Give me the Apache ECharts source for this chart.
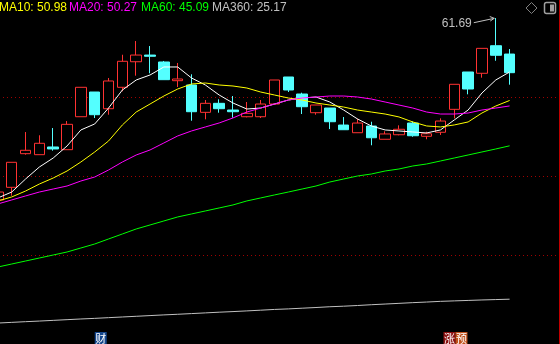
<!DOCTYPE html>
<html><head><meta charset="utf-8">
<script src="https://cdn.jsdelivr.net/npm/echarts@6/dist/echarts.min.js"></script>
<style>html,body{margin:0;padding:0;background:#000;overflow:hidden;width:560px;height:344px;position:relative;}
#c{position:absolute;left:-9px;top:0;width:569px;height:344px;}</style>
</head><body><div id="c"></div>
<script>
// ---- data ----
const categories = ['1','2','3','4','5','6','7','8','9','10','11','12','13','14','15','16','17','18','19','20',
  '21','22','23','24','25','26','27','28','29','30','31','32','33','34','35','36','37','38','39','40','41'];
// [open, close, low, high]
const candles = [
  [38.05,39.09,37.80,39.09],[39.70,42.95,38.61,42.95],[44.07,44.51,43.94,46.88],[43.94,45.42,43.94,46.46],
  [44.94,44.68,44.46,47.40],[44.59,47.88,44.59,48.31],[48.87,52.69,48.87,52.69],[52.08,49.13,48.70,52.08],
  [49.91,53.51,49.13,53.90],[52.69,56.07,52.17,56.92],[56.01,56.88,54.20,58.70],[56.88,56.72,54.51,58.05],
  [55.98,53.68,53.68,56.11],[53.55,53.77,52.73,55.85],[52.99,49.52,48.35,54.38],[49.44,50.61,48.53,51.04],
  [50.61,49.91,49.39,51.13],[49.74,49.52,48.74,51.56],[48.87,49.31,48.79,50.78],[48.87,50.52,48.70,51.04],
  [50.52,53.64,50.52,53.64],[54.03,52.34,52.08,54.03],[51.82,50.17,49.22,51.99],[49.39,50.39,49.13,50.39],
  [50.00,48.22,47.27,50.00],[47.79,47.18,47.18,48.83],[46.79,48.05,46.79,48.61],[47.66,46.14,45.16,48.22],
  [45.94,46.63,45.94,46.98],[46.53,47.24,46.46,47.75],[48.05,46.40,46.27,48.27],[46.33,46.66,45.94,46.92],
  [46.85,48.31,46.50,48.66],[49.83,53.08,48.66,53.08],[54.68,52.47,51.78,54.68],[54.51,57.75,53.94,57.75],
  [58.09,56.85,56.14,61.69],[57.01,54.59,53.03,57.66]
];
const ma5 = [38.32,39.09,40.78,42.34,43.51,45.07,47.15,47.93,50.00,52.34,53.64,54.29,55.33,55.33,53.90,52.99,
  51.69,50.65,49.87,50.00,50.52,51.04,51.30,51.43,50.78,49.74,48.58,47.67,47.15,47.02,46.89,46.76,47.15,48.45,
  49.74,51.95,53.64,54.68];
const ma10 = [37.93,38.45,39.22,40.13,40.91,41.82,42.99,44.29,45.72,47.80,49.48,50.52,51.56,52.47,53.12,53.25,
  52.99,52.86,52.60,52.08,51.69,51.30,51.04,50.65,50.39,50.13,49.74,49.48,49.22,48.84,48.19,47.67,47.54,47.80,
  48.19,49.35,50.26,50.98];
const ma20 = [37.54,38.06,38.58,39.09,39.48,39.87,40.52,41.04,41.95,42.99,43.90,44.55,45.46,46.37,47.02,47.54,
  48.06,48.71,49.48,50.00,50.52,51.04,51.30,51.43,51.56,51.56,51.43,51.17,50.78,50.39,50.00,49.48,49.22,49.22,
  49.35,49.74,50.00,50.27];
const ma60 = [29.35,29.74,30.13,30.52,30.91,31.30,31.82,32.34,32.99,33.64,34.29,34.81,35.33,35.85,36.24,36.63,
  37.02,37.41,37.93,38.32,38.71,39.09,39.48,39.87,40.39,40.78,41.17,41.43,41.82,42.08,42.47,42.73,43.12,43.51,
  43.90,44.29,44.68,45.09];
const ma360 = [22.07,22.16,22.25,22.33,22.42,22.51,22.60,22.68,22.77,22.86,22.95,23.04,23.13,23.21,23.30,23.39,
  23.48,23.56,23.65,23.74,23.84,23.91,24.00,24.09,24.19,24.26,24.35,24.45,24.54,24.63,24.72,24.80,24.89,24.95,
  25.01,25.07,25.12,25.17];
const legendNames = ['MA10','MA20','MA60','MA360'];
const legendValues = ['50.98','50.27','45.09','25.17'];
const gridLevels = [51.43, 41.17, 30.91];
const peakIndex = 36, peakValue = 61.69;
const eventMarks = [{idx: 7, chars: ['财']}, {idx: 32, chars: ['涨','预']}];

// ---- chart ----
const OX = 9; // the chart canvas starts 9px left of the window
const chart = echarts.init(document.getElementById('c'), null, {renderer: 'canvas'});
const colors = {ma5:'#ffffff', ma10:'#ffff00', ma20:'#ff00ff', ma60:'#00ff00', ma360:'#c0c0c0'};
function lineSeries(name, data, color) {
  return {type:'line', name, data, symbol:'none', showSymbol:false, smooth:false, silent:true,
    lineStyle:{color, width:1}, itemStyle:{color}, z:4};
}
chart.setOption({
  backgroundColor:'#000',
  animation:false,
  grid:{left:0, right:2, top:0, bottom:0},
  xAxis:{type:'category', data:categories, boundaryGap:true, show:false},
  yAxis:{type:'value', min:19.35, max:64.03, show:false, splitLine:{show:false}},
  series:[
    {type:'candlestick', data:candles, barWidth:11, silent:true, z:2,
      itemStyle:{color:'#000', color0:'#54ffff', borderColor:'#ff3232', borderColor0:'#54ffff', borderWidth:1},
      markLine:{silent:true, symbol:'none', label:{show:false}, z:1,
        lineStyle:{color:'#a00000', type:[1,3], width:1},
        data: gridLevels.map(v => ({yAxis:v}))}},
    lineSeries('MA5', ma5, colors.ma5),
    lineSeries('MA10', ma10, colors.ma10),
    lineSeries('MA20', ma20, colors.ma20),
    lineSeries('MA60', ma60, colors.ma60),
    lineSeries('MA360', ma360, colors.ma360)
  ]
});

const g = [];
const legendX = [-1, 69, 141, 212];
const legendColors = [colors.ma10, colors.ma20, colors.ma60, colors.ma360];
legendNames.forEach((n, i) => {
  g.push({type:'text', x:legendX[i] + OX, y:2, z:10,
    style:{text:n + ': ' + legendValues[i], fill:legendColors[i], font:'12px "Liberation Sans", Arial, sans-serif'}});
});
// peak annotation
const pk = chart.convertToPixel({xAxisIndex:0, yAxisIndex:0}, [peakIndex, peakValue]);
g.push({type:'text', x:pk[0]-24, y:pk[1]+5.5, z:10,
  style:{text:peakValue.toFixed(2), fill:'#c0c0c0', font:'12px "Liberation Sans", Arial, sans-serif',
    align:'right', verticalAlign:'middle'}});
g.push({type:'polyline', z:10, shape:{points:[[pk[0]-22, pk[1]+4.7],[pk[0]-1.5, pk[1]+0.3]]},
  style:{stroke:'#c0c0c0', lineWidth:1, fill:null}});
g.push({type:'polyline', z:10, shape:{points:[[pk[0]-6, pk[1]-1.5],[pk[0]-1.5, pk[1]+0.3],[pk[0]-5.5, pk[1]+3]]},
  style:{stroke:'#c0c0c0', lineWidth:1, fill:null}});
// event marks at bottom
const markColors = {'财':'#14468c', '涨':'#8c1010', '预':'#c0501a'};
eventMarks.forEach(m => {
  const p = chart.convertToPixel({xAxisIndex:0, yAxisIndex:0}, [m.idx, 40]);
  let x0 = m.idx === 7 ? p[0] : p[0] + 3;
  m.chars.forEach((ch, k) => {
    g.push({type:'rect', z:10, shape:{x:x0 + k*12, y:332, width:12, height:12}, style:{fill:markColors[ch]}});
    g.push({type:'text', z:11, x:x0 + k*12 + 6, y:338.5,
      style:{text:ch, fill:'#ffffff', font:'11px "Noto Sans CJK SC", sans-serif', align:'center', verticalAlign:'middle'}});
  });
});
// right edge line
g.push({type:'line', z:10, shape:{x1:559.5+OX, y1:0, x2:559.5+OX, y2:344}, style:{stroke:'#c00000', lineWidth:1}});
// top-right icons
g.push({type:'polygon', z:10, shape:{points:[[531.5+OX,2.5],[537+OX,8],[531.5+OX,13.5],[526+OX,8]]}, style:{stroke:'#808080', fill:null, lineWidth:1}});
g.push({type:'rect', z:10, shape:{x:544.5+OX, y:2.5, width:11, height:11, r:2}, style:{stroke:'#a0a0a0', fill:null, lineWidth:1.5}});
g.push({type:'rect', z:10, shape:{x:550+OX, y:4.5, width:4, height:7}, style:{fill:'#a0a0a0'}});
chart.setOption({graphic:g});
</script>
</body></html>
